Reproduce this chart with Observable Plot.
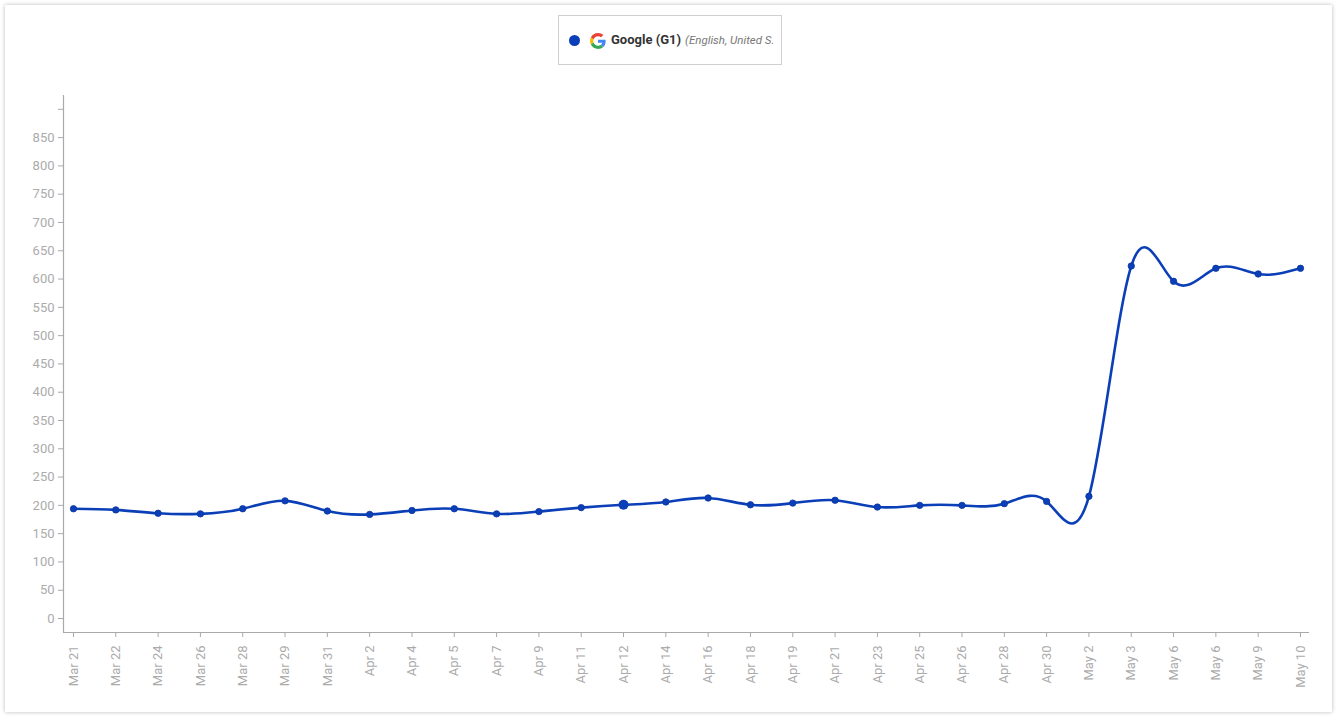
<!DOCTYPE html>
<html>
<head>
<meta charset="utf-8">
<script src="https://cdn.jsdelivr.net/npm/d3@7"></script>
<script src="https://cdn.jsdelivr.net/npm/@observablehq/plot@0.6"></script>
<style>
  html, body { margin: 0; padding: 0; background: #fff; }
  #wrap { position: relative; width: 1340px; height: 721px; overflow: hidden; font-family: Roboto, "Noto Sans", sans-serif; }
  #card { position: absolute; left: 5px; top: 5px; width: 1327px; height: 707px; background: #fff;
          box-shadow: 0 0 4px rgba(0,0,0,0.28); }
  #chart { position: absolute; left: 0; top: 0; }
  #legend { position: absolute; left: 558px; top: 15px; width: 222px; height: 48px; border: 1px solid #cfcfcf;
            background: #fff; overflow: hidden; white-space: nowrap; box-sizing: content-box; }
  #legend .dot { position: absolute; left: 10px; top: 19px; width: 11px; height: 11px; border-radius: 50%; background: #0b3fb8; }
  #legend .icon { position: absolute; left: 31px; top: 17px; width: 16px; height: 16px; }
  #legend .name { position: absolute; left: 52px; top: 16px; font-size: 13px; font-weight: bold; color: #333; }
  #legend .sub { font-size: 11.5px; font-style: italic; font-weight: normal; color: #777; margin-left: 4px; }
</style>
</head>
<body>
<div id="wrap">
  <div id="card"></div>
  <div id="chart"></div>
  <div id="legend">
    <div class="dot"></div>
    <svg class="icon" viewBox="0 0 48 48"><path fill="#EA4335" d="M24 9.5c3.54 0 6.71 1.22 9.21 3.6l6.85-6.85C35.9 2.38 30.47 0 24 0 14.62 0 6.51 5.38 2.56 13.22l7.98 6.19C12.43 13.72 17.74 9.5 24 9.5z"/><path fill="#4285F4" d="M46.98 24.55c0-1.57-.15-3.09-.38-4.55H24v9.02h12.94c-.58 2.96-2.26 5.48-4.78 7.18l7.73 6c4.51-4.18 7.09-10.36 7.09-17.65z"/><path fill="#FBBC05" d="M10.53 28.59c-.48-1.45-.76-2.99-.76-4.59s.27-3.14.76-4.59l-7.98-6.19C.92 16.46 0 20.12 0 24c0 3.88.92 7.54 2.56 10.78l7.97-6.19z"/><path fill="#34A853" d="M24 48c6.48 0 11.93-2.13 15.89-5.81l-7.73-6c-2.15 1.45-4.92 2.3-8.16 2.3-6.26 0-11.57-4.22-13.47-9.91l-7.98 6.19C6.51 42.62 14.62 48 24 48z"/></svg>
    <div class="name">Google (G1)<span class="sub">(English, United S.</span></div>
  </div>
</div>
<script>
const labels = ["Mar 21","Mar 22","Mar 24","Mar 26","Mar 28","Mar 29","Mar 31","Apr 2","Apr 4","Apr 5",
                "Apr 7","Apr 9","Apr 11","Apr 12","Apr 14","Apr 16","Apr 18","Apr 19","Apr 21","Apr 23",
                "Apr 25","Apr 26","Apr 28","Apr 30","May 2","May 3","May 6","May 6","May 9","May 10"];
const values = [194,192,186,185,194,208,190,184,191,194,
                185,189,196,201,206,213,201,204,209,197,
                200,200,203,207,216,623,596,619,609,619];
const yTicks = d3.range(0, 901, 50);
const highlighted = [13];

const data = labels.map((l, i) => ({i, label: l, value: values[i]}));
const xDomain = [-0.236, labels.length - 1 + 0.213];
const yDomain = [-24.7, 924.4];
const lineColor = "#0b3fb8";

const chart = Plot.plot({
  width: 1340,
  height: 721,
  marginLeft: 63,
  marginRight: 31,
  marginTop: 95,
  marginBottom: 89,
  style: {fontFamily: "Roboto, sans-serif", fontSize: "13px", color: "#ababab", background: "transparent", overflow: "visible"},
  x: {type: "linear", domain: xDomain, label: null},
  y: {type: "linear", domain: yDomain, label: null},
  marks: [
    Plot.ruleX([xDomain[0]], {stroke: "#a9a9a9", strokeWidth: 1.2}),
    Plot.ruleY([yDomain[0]], {stroke: "#a9a9a9", strokeWidth: 1.2}),
    Plot.axisY(yTicks, {tickSize: 5, tickPadding: 4, tickFormat: d => d === 900 ? "" : d, stroke: "#a9a9a9", label: null}),
    Plot.axisX(d3.range(labels.length), {tickSize: 5, tickPadding: 8, tickRotate: -90, tickFormat: i => labels[i], stroke: "#a9a9a9", label: null}),
    Plot.line(data, {x: "i", y: "value", curve: "natural", stroke: lineColor, strokeWidth: 2.6}),
    Plot.dot(data, {x: "i", y: "value", r: 3.2, fill: lineColor, stroke: "#0a35a0", strokeWidth: 0.8}),
    Plot.dot(data.filter(d => highlighted.includes(d.i)), {x: "i", y: "value", r: 5, fill: lineColor})
  ]
});
document.getElementById("chart").appendChild(chart);
</script>
</body>
</html>
